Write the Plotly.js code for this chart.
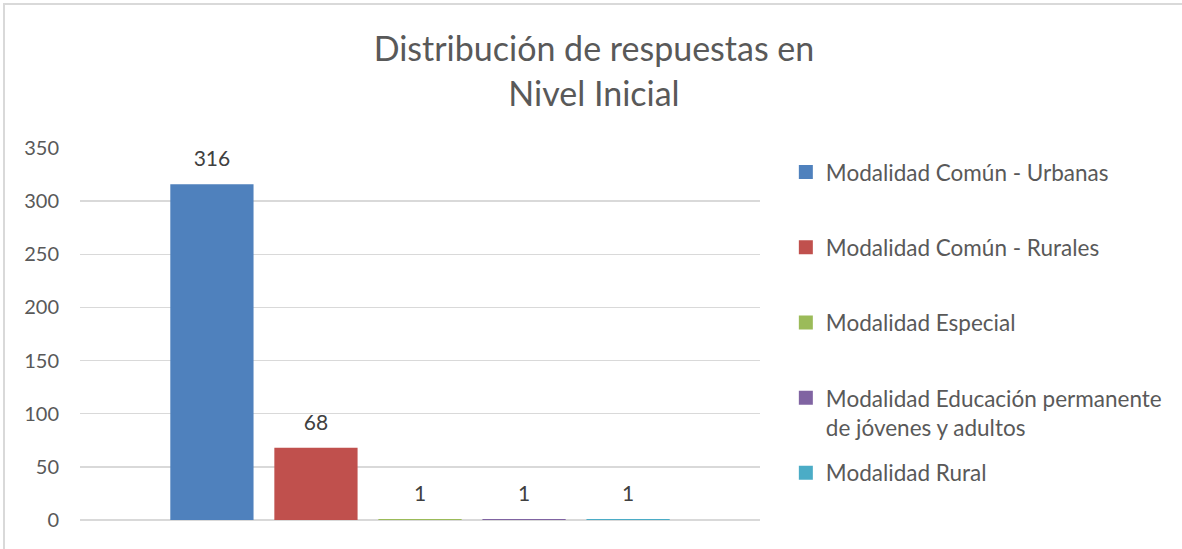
<!DOCTYPE html>
<html>
<head>
<meta charset="utf-8">
<script src="https://cdn.plot.ly/plotly-3.0.1.min.js"></script>
<style>
  body { margin: 0; background: #fff; }
  #wrap { position: relative; width: 1182px; height: 549px; }
  #plotly-div { width: 1182px; height: 549px; }
  #frame { position: absolute; left: 3px; top: 3px; width: 1179px; height: 546px;
           border-left: 2px solid #d9d9d9; border-top: 2px solid #d9d9d9;
           box-sizing: border-box; pointer-events: none; }
</style>
</head>
<body>
<div id="wrap">
  <div id="plotly-div"></div>
  <div id="frame"></div>
</div>
<script>
var category = ['Nivel Inicial'];
var seriesNames = [
    'Modalidad Común - Urbanas',
    'Modalidad Común - Rurales',
    'Modalidad Especial',
    'Modalidad Educación permanente<br>de jóvenes y adultos',
    'Modalidad Rural'
];
var seriesValues = [316, 68, 1, 1, 1];
var seriesColors = ['#4F81BD', '#C0504D', '#9BBB59', '#8064A2', '#4BACC6'];

function drawChart() {
    var font = 'Lato, "Open Sans", sans-serif';
    // big no-break spaces pad the label box downwards, so the label sits higher over the bar
    var pad = '<span style="font-size:72px">\u00A0</span>';
    var data = [];
    for (var i = 0; i < seriesNames.length; i++) {
        data.push({
            x: category,
            y: [seriesValues[i]],
            name: seriesNames[i],
            type: 'bar',
            showlegend: false,
            marker: { color: seriesColors[i] },
            text: [pad + seriesValues[i] + pad],
            textposition: 'outside',
            cliponaxis: false,
            textfont: { family: font, size: 21, color: '#404040' }
        });
    }
    // legend entries (square swatches like the original)
    for (var j = 0; j < seriesNames.length; j++) {
        data.push({
            x: [null],
            y: [null],
            name: seriesNames[j],
            type: 'scatter',
            mode: 'markers',
            marker: { color: seriesColors[j], symbol: 'square', size: 14 },
            legend: j < 4 ? 'legend' : 'legend2',
            legendgroup: 'g' + j
        });
    }

    var legendFont = { family: font, size: 22.5, color: '#595959' };

    var layout = {
        width: 1182,
        height: 549,
        margin: { l: 80, r: 422, t: 148, b: 29 },
        paper_bgcolor: '#ffffff',
        plot_bgcolor: '#ffffff',
        font: { family: font, color: '#595959' },
        title: {
            text: 'Distribución de respuestas en<br>Nivel Inicial',
            font: { family: font, size: 34, color: '#595959' },
            x: 0.5025, xref: 'container', xanchor: 'center',
            y: 0.888, yref: 'container', yanchor: 'middle'
        },
        barmode: 'group',
        bargap: 0.235,
        bargroupgap: 0.2,
        showlegend: true,
        legend: {
            x: 1.038, xanchor: 'left',
            y: 0.992, yanchor: 'top',
            traceorder: 'grouped',
            tracegroupgap: 43,
            valign: 'top',
            font: legendFont,
            bgcolor: 'rgba(0,0,0,0)'
        },
        legend2: {
            x: 1.038, xanchor: 'left',
            y: 0.184, yanchor: 'top',
            font: legendFont,
            bgcolor: 'rgba(0,0,0,0)'
        },
        xaxis: {
            showticklabels: false,
            showgrid: false,
            zeroline: false,
            showline: false,
            ticks: ''
        },
        yaxis: {
            range: [0, 350],
            dtick: 50,
            showgrid: true,
            gridcolor: '#d9d9d9',
            gridwidth: 1.5,
            zeroline: true,
            zerolinecolor: '#d9d9d9',
            zerolinewidth: 1.5,
            showline: false,
            ticks: '',
            ticklabelstandoff: 20,
            tickfont: { family: font, size: 20, color: '#595959' }
        }
    };

    Plotly.newPlot('plotly-div', data, layout, { staticPlot: true });
}

drawChart();
</script>
</body>
</html>
